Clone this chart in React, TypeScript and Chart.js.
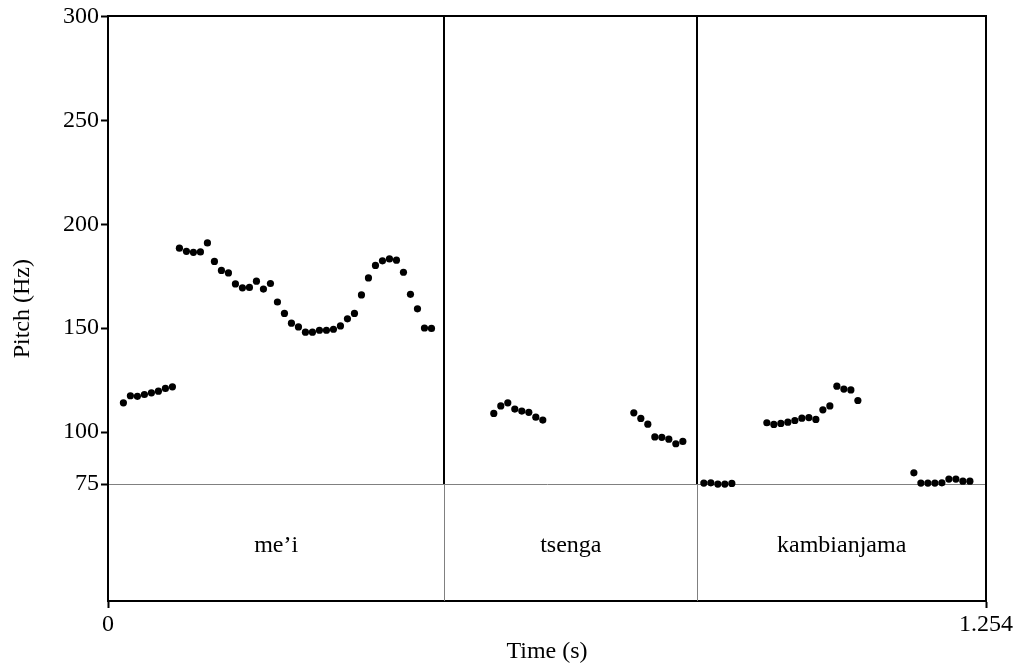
import React, { useEffect, useRef } from "react";
import { Chart, registerables } from "chart.js";

Chart.register(...registerables);

// Pitch track (time in s, pitch in Hz)
const times: number[] = [
  0.022, 0.032, 0.042, 0.052, 0.062, 0.072, 0.082, 0.092,
  0.102, 0.112, 0.122, 0.132, 0.142, 0.152, 0.162, 0.172, 0.182, 0.192,
  0.202, 0.212, 0.222, 0.232, 0.242, 0.252, 0.262, 0.272, 0.282, 0.292,
  0.302, 0.312, 0.322, 0.332, 0.342, 0.352, 0.362, 0.372, 0.382, 0.392,
  0.402, 0.412, 0.422, 0.432, 0.442, 0.452, 0.462,
  0.551, 0.561, 0.571, 0.581, 0.591, 0.601, 0.611, 0.621,
  0.751, 0.761, 0.771, 0.781, 0.791, 0.801, 0.811, 0.821,
  0.851, 0.861, 0.871, 0.881, 0.891,
  0.941, 0.951, 0.961, 0.971, 0.981, 0.991, 1.001, 1.011, 1.021, 1.031,
  1.041, 1.051, 1.061, 1.071,
  1.151, 1.161, 1.171, 1.181, 1.191, 1.201, 1.211, 1.221, 1.231,
];

const pitch: number[] = [
  114.1, 117.5, 117.2, 118.1, 118.9, 119.7, 121.0, 121.8,
  188.5, 187.0, 186.5, 186.7, 191.0, 182.1, 177.8, 176.6, 171.3, 169.4,
  169.6, 172.6, 168.8, 171.5, 162.6, 157.1, 152.4, 150.6, 148.1, 148.1,
  149.0, 149.0, 149.5, 151.1, 154.5, 157.1, 166.0, 174.2, 180.2, 182.4,
  183.3, 182.7, 176.9, 166.3, 159.3, 150.1, 149.9,
  109.0, 112.6, 114.1, 111.1, 110.1, 109.5, 107.2, 105.8,
  109.3, 106.6, 103.8, 97.7, 97.5, 96.6, 94.4, 95.5,
  75.5, 75.6, 75.0, 75.0, 75.3,
  104.5, 103.7, 104.2, 104.8, 105.6, 106.7, 107.0, 106.1, 110.7, 112.6,
  122.1, 120.7, 120.3, 115.2,
  80.4, 75.5, 75.5, 75.5, 75.6, 77.4, 77.4, 76.4, 76.4,
];

// Text tier
const tierBoundaries: number[] = [0, 0.4803, 0.8417, 1.254];
const tierLabels: string[] = ["me\u2019i", "tsenga", "kambianjama"];

// Axes
const timeMin = 0;
const timeMax = 1.254;
const xTicks: number[] = [0, 1.254];
const pitchFloor = 75;
const pitchTop = 300;
const yMinValue = 18.75;
const yTicks: number[] = [75, 100, 150, 200, 250, 300];

const FONT = "'Liberation Serif', 'Times New Roman', serif";

const praatPlugin = {
  id: "praatDecor",
  beforeDatasetsDraw(chart: any) {
    const { ctx, chartArea, scales } = chart;
    const x = scales.x;
    const y = scales.y;
    const yFloor = y.getPixelForValue(pitchFloor);
    const yTop = y.getPixelForValue(pitchTop);
    ctx.save();
    // interior boundaries
    for (let i = 1; i < tierBoundaries.length - 1; i++) {
      const px = Math.round(x.getPixelForValue(tierBoundaries[i]));
      ctx.strokeStyle = "#000";
      ctx.lineWidth = 2;
      ctx.beginPath();
      ctx.moveTo(px, yTop);
      ctx.lineTo(px, yFloor);
      ctx.stroke();
      ctx.strokeStyle = "#808080";
      ctx.lineWidth = 1;
      ctx.beginPath();
      ctx.moveTo(px + 0.5, yFloor);
      ctx.lineTo(px + 0.5, chartArea.bottom);
      ctx.stroke();
    }
    // tier labels
    ctx.fillStyle = "#000";
    ctx.font = `24px ${FONT}`;
    ctx.textAlign = "center";
    ctx.textBaseline = "alphabetic";
    const midY = (yFloor + chartArea.bottom) / 2;
    for (let i = 0; i < tierLabels.length; i++) {
      const cx =
        (x.getPixelForValue(tierBoundaries[i]) +
          x.getPixelForValue(tierBoundaries[i + 1])) /
        2;
      ctx.fillText(tierLabels[i], cx, midY + 9);
    }
    ctx.restore();
  },
  afterDraw(chart: any) {
    const { ctx, chartArea, scales } = chart;
    const x = scales.x;
    const y = scales.y;
    ctx.save();
    ctx.strokeStyle = "#000";
    ctx.lineWidth = 2;
    const top = Math.round(y.getPixelForValue(pitchTop));
    const right = Math.round(x.getPixelForValue(timeMax));
    ctx.beginPath();
    ctx.moveTo(chartArea.left, top);
    ctx.lineTo(right, top);
    ctx.lineTo(right, chartArea.bottom);
    ctx.stroke();
    ctx.restore();
  },
};

export default function App() {
  const ref = useRef<HTMLCanvasElement | null>(null);

  useEffect(() => {
    if (!ref.current) return;
    const data = times.map((t, i) => ({ x: t, y: pitch[i] }));
    const chart = new Chart(ref.current, {
      type: "scatter",
      data: {
        datasets: [
          {
            data,
            backgroundColor: "#000",
            borderColor: "#000",
            pointRadius: 3.6,
            pointBorderWidth: 0,
            showLine: false,
          },
        ],
      },
      options: {
        responsive: false,
        animation: false,
        devicePixelRatio: 1,
        layout: { padding: { top: 16, right: 31, left: 0, bottom: 0 } },
        plugins: {
          legend: { display: false },
          tooltip: { enabled: false },
        },
        scales: {
          x: {
            type: "linear",
            min: timeMin,
            max: timeMax,
            afterBuildTicks: (scale: any) => {
              scale.ticks = xTicks.map((v) => ({ value: v }));
            },
            afterFit: (scale: any) => {
              scale.height = 69;
            },
            ticks: {
              autoSkip: false,
              maxRotation: 0,
              color: "#000",
              padding: 2,
              font: { family: FONT, size: 24 },
              callback: (v: any) => String(v),
            },
            grid: {
              drawOnChartArea: false,
              drawTicks: true,
              tickLength: 7,
              tickWidth: 2,
              tickColor: "#000",
            },
            border: { display: true, color: "#000", width: 2 },
            title: {
              display: true,
              text: "Time (s)",
              color: "#000",
              font: { family: FONT, size: 24 },
              padding: { top: 0, bottom: 4 },
            },
          },
          y: {
            type: "linear",
            min: yMinValue,
            max: pitchTop,
            afterBuildTicks: (scale: any) => {
              scale.ticks = yTicks.map((v) => ({ value: v }));
            },
            afterFit: (scale: any) => {
              scale.width = 108;
            },
            ticks: {
              autoSkip: false,
              color: "#000",
              padding: 2,
              font: { family: FONT, size: 24 },
              callback: (v: any) => String(v),
            },
            grid: {
              drawOnChartArea: true,
              drawTicks: true,
              tickLength: 7,
              tickWidth: 2,
              tickColor: "#000",
              lineWidth: 1,
              color: (c: any) =>
                c.tick && c.tick.value === pitchFloor ? "#808080" : "rgba(0,0,0,0)",
            },
            border: { display: true, color: "#000", width: 2 },
            title: {
              display: true,
              text: "Pitch (Hz)",
              color: "#000",
              font: { family: FONT, size: 24 },
              padding: { top: 8, bottom: 0 },
            },
          },
        },
      },
      plugins: [praatPlugin],
    });
    return () => chart.destroy();
  }, []);

  return (
    <div
      style={{
        position: "absolute",
        left: 0,
        top: 0,
        width: 1017,
        height: 670,
        background: "#fff",
      }}
    >
      <canvas ref={ref} width={1017} height={670} style={{ display: "block" }} />
    </div>
  );
}
